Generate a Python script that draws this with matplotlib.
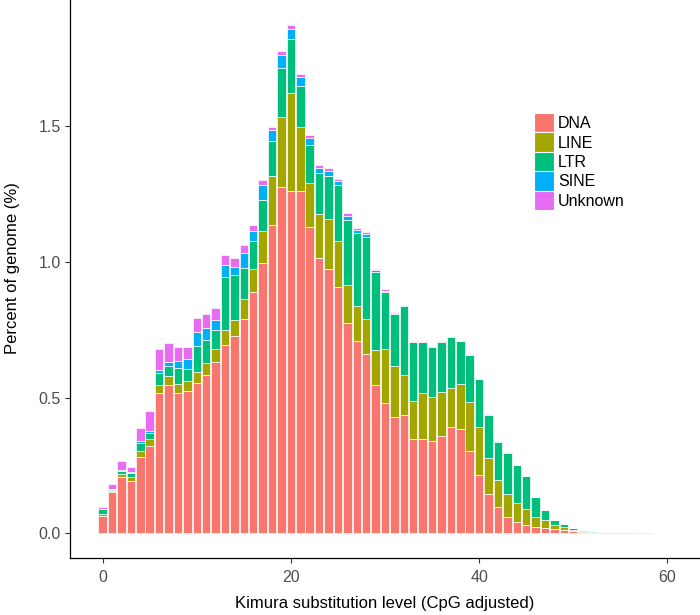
import numpy as np
import matplotlib
matplotlib.use('Agg')
import matplotlib.pyplot as plt
from matplotlib.patches import Patch
from matplotlib.ticker import FormatStrFormatter

plt.rcParams['font.family'] = ['Liberation Sans', 'DejaVu Sans']

# Kimura substitution level (bins 0..60)
kimura = np.arange(61)

# percent of genome per repeat class (stacked in this order)
dna = [0.064, 0.151, 0.209, 0.193, 0.282, 0.323, 0.516, 0.547, 0.516, 0.526,
       0.554, 0.583, 0.633, 0.694, 0.728, 0.790, 0.888, 0.995, 1.135, 1.278,
       1.263, 1.263, 1.128, 1.016, 0.973, 0.909, 0.774, 0.710, 0.661, 0.547,
       0.480, 0.430, 0.436, 0.348, 0.349, 0.340, 0.360, 0.392, 0.384, 0.303,
       0.215, 0.146, 0.097, 0.060, 0.041, 0.031, 0.022, 0.020, 0.015, 0.011,
       0.007, 0.005, 0.004, 0.001, 0.001, 0.001, 0.000, 0.001, 0.002, 0.000,
       0.000]
line = [0.008, 0.006, 0.008, 0.016, 0.023, 0.023, 0.029, 0.033, 0.035, 0.035,
        0.039, 0.044, 0.046, 0.054, 0.058, 0.075, 0.085, 0.119, 0.183, 0.255,
        0.361, 0.234, 0.162, 0.162, 0.184, 0.168, 0.141, 0.128, 0.129, 0.129,
        0.200, 0.187, 0.146, 0.141, 0.169, 0.164, 0.160, 0.145, 0.166, 0.181,
        0.177, 0.130, 0.098, 0.085, 0.070, 0.057, 0.039, 0.029, 0.016, 0.011,
        0.005, 0.002, 0.002, 0.002, 0.001, 0.002, 0.000, 0.002, 0.001, 0.000,
        0.000]
ltr = [0.016, 0.004, 0.013, 0.014, 0.029, 0.025, 0.045, 0.037, 0.057, 0.043,
       0.099, 0.085, 0.070, 0.198, 0.166, 0.112, 0.104, 0.115, 0.127, 0.183,
       0.198, 0.152, 0.141, 0.149, 0.161, 0.207, 0.240, 0.268, 0.303, 0.288,
       0.210, 0.191, 0.256, 0.216, 0.187, 0.184, 0.185, 0.188, 0.158, 0.173,
       0.175, 0.160, 0.143, 0.152, 0.140, 0.123, 0.073, 0.037, 0.018, 0.012,
       0.006, 0.004, 0.001, 0.001, 0.002, 0.000, 0.002, 0.000, 0.000, 0.000,
       0.000]
sine = [0.003, 0.002, 0.003, 0.004, 0.005, 0.005, 0.012, 0.014, 0.027, 0.038,
        0.049, 0.046, 0.037, 0.042, 0.028, 0.055, 0.037, 0.055, 0.040, 0.047,
        0.036, 0.032, 0.027, 0.021, 0.019, 0.013, 0.016, 0.012, 0.011, 0.006,
        0.004, 0.004, 0.002, 0.002, 0.002, 0.002, 0.002, 0.001, 0.001, 0.001,
        0.001, 0.001, 0.001, 0.001, 0.001, 0.000, 0.000, 0.000, 0.000, 0.000,
        0.000, 0.000, 0.000, 0.000, 0.000, 0.000, 0.001, 0.000, 0.000, 0.000,
        0.000]
unknown = [0.006, 0.018, 0.035, 0.016, 0.050, 0.076, 0.077, 0.069, 0.053, 0.044,
           0.051, 0.050, 0.044, 0.037, 0.034, 0.030, 0.022, 0.018, 0.013, 0.015,
           0.016, 0.012, 0.010, 0.011, 0.010, 0.009, 0.008, 0.006, 0.007, 0.005,
           0.005, 0.003, 0.003, 0.002, 0.002, 0.002, 0.001, 0.001, 0.001, 0.002,
           0.002, 0.002, 0.001, 0.001, 0.001, 0.001, 0.001, 0.001, 0.000, 0.000,
           0.000, 0.000, 0.000, 0.000, 0.000, 0.000, 0.000, 0.000, 0.000, 0.002,
           0.002]

classes = ['DNA', 'LINE', 'LTR', 'SINE', 'Unknown']
colors = ['#F8766D', '#A3A500', '#00BF7D', '#00B0F6', '#E76BF3']

fig = plt.figure(figsize=(7.0, 6.15), dpi=100)
ax = fig.add_axes([0.1, 0.0927, 0.9, 0.9073])

bottom = np.zeros(len(kimura))
for vals, c in zip([dna, line, ltr, sine, unknown], colors):
    vals = np.array(vals)
    ax.bar(kimura, vals, bottom=bottom, width=0.9, color=c,
           edgecolor='white', linewidth=0.5)
    bottom += vals

ax.set_xlim(-3.47, 63.47)
ax.set_ylim(-0.091, 1.966)
ax.set_xticks([0, 20, 40, 60])
ax.set_yticks([0.0, 0.5, 1.0, 1.5])
ax.yaxis.set_major_formatter(FormatStrFormatter('%.1f'))

for s in ['top', 'right']:
    ax.spines[s].set_visible(False)
for s in ['left', 'bottom']:
    ax.spines[s].set_linewidth(0.9)
    ax.spines[s].set_color('black')
ax.tick_params(length=3.5, width=0.8, color='#333333', labelcolor='#4d4d4d',
               labelsize=11.5)
ax.tick_params(axis='x', pad=5)
ax.tick_params(axis='y', pad=3)

ax.set_xlabel('Kimura substitution level (CpG adjusted)', fontsize=12, labelpad=8)
ax.set_ylabel('Percent of genome (%)', fontsize=12)
ax.yaxis.set_label_coords(-0.08, 0.52)

handles = [Patch(facecolor=c, edgecolor='white', linewidth=0.8) for c in colors]
ax.legend(handles, classes, loc='upper left',
          bbox_to_anchor=(534 / 700, 1 - 113 / 615), bbox_transform=fig.transFigure,
          frameon=False, borderpad=0, borderaxespad=0, fontsize=11.5,
          handlelength=1.25, handleheight=1.5, labelspacing=0, handletextpad=0.25)

fig.savefig('out.png', dpi=100)
